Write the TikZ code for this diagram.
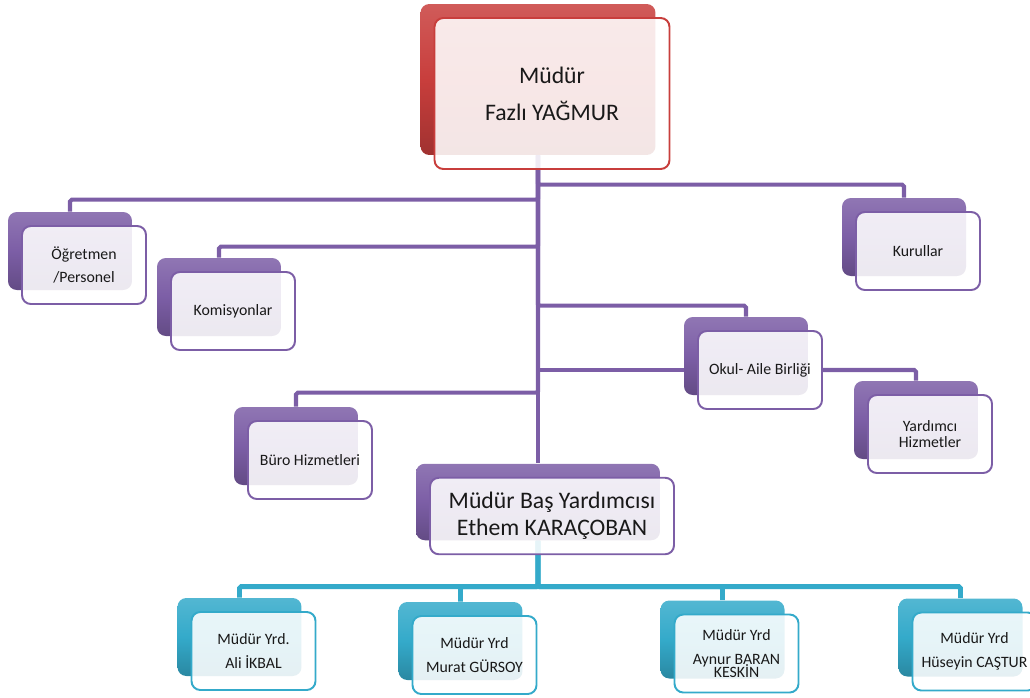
\documentclass[tikz,border=0pt]{standalone}
\usepackage{fontspec}
\setmainfont{Carlito}
\usetikzlibrary{backgrounds}
\definecolor{orgred}{RGB}{200,62,60}
\definecolor{orgpurple}{RGB}{124,94,166}
\definecolor{orgteal}{RGB}{52,170,202}
\tikzset{
  backcard/.style={rounded corners=5pt,draw=none,top color=#1!85!white,bottom color=#1!80!black,middle color=#1},
  frontcard/.style={rounded corners=5pt,draw=#1,line width=1.1pt,fill=white,fill opacity=0.88,text opacity=1,align=center,text=black!90},
  cardS/.style={minimum width=2.48cm,minimum height=1.56cm,inner sep=1pt,font=\fontsize{9}{13.5}\selectfont},
  cardB/.style={minimum width=4.7cm,minimum height=3.02cm,font=\fontsize{13.5}{21}\selectfont},
  cardW/.style={minimum width=4.88cm,minimum height=1.53cm,inner sep=1pt,font=\fontsize{13.5}{15.5}\selectfont},
  pline/.style={draw=orgpurple,line width=2.3pt,rounded corners=1pt},
  tline/.style={draw=orgteal,line width=2.8pt,rounded corners=1pt}
}
\newcommand{\OrgCard}[5]{%
  \node[backcard=#3,#4] (#1-b) at (#2) {};
  \node[frontcard=#3,#4] (#1) at ([shift={(14,14)}]#1-b.center) {#5};
}

\begin{document}
\begin{tikzpicture}[x=0.02cm,y=-0.02cm]
  \useasboundingbox (0,0) rectangle (1030,697);
  \OrgCard{mudur}{538,79.5}{orgred}{cardB}{Müdür\\Fazlı YAĞMUR}
  \OrgCard{ogr}{70,251}{orgpurple}{cardS}{Öğretmen\\/Personel}
  \OrgCard{kom}{219,297}{orgpurple}{cardS}{Komisyonlar}
  \OrgCard{kur}{904,237}{orgpurple}{cardS}{Kurullar}
  \OrgCard{okul}{746,356}{orgpurple}{cardS}{Okul- Aile Birliği}
  \OrgCard{yard}{916,420}{orgpurple}{cardS}{Yardımcı\\[-4.5pt]Hizmetler}
  \OrgCard{buro}{296,446}{orgpurple}{cardS}{Büro Hizmetleri}
  \OrgCard{mby}{538,502}{orgpurple}{cardW}{Müdür Baş Yardımcısı\\Ethem KARAÇOBAN}
  \OrgCard{ali}{239.5,637}{orgteal}{cardS}{Müdür Yrd.\\Ali İKBAL}
  \OrgCard{murat}{460.5,641}{orgteal}{cardS}{Müdür Yrd\\Murat GÜRSOY}
  \OrgCard{aynur}{722.5,639.5}{orgteal}{cardS}{Müdür Yrd\\Aynur BARAN\\[-6pt]KESKİN}
  \OrgCard{huseyin}{960.5,637.5}{orgteal}{cardS}{Müdür Yrd\\Hüseyin CAŞTUR}

  \begin{scope}[on background layer]
    \draw[pline] (mudur-b.south) -- (mby-b.north);
    \draw[pline] (ogr-b.north) -- ++(0,-12) -| (mudur-b.south);
    \draw[pline] (kom-b.north) -- ++(0,-11) -| (mudur-b.south);
    \draw[pline] (kur-b.north) -- ++(0,-13) -| (mudur-b.south);
    \draw[pline] (okul-b.north) -- ++(0,-11) -| (mudur-b.south);
    \draw[pline] (okul.west) -- (okul.west -| mudur-b.south);
    \draw[pline] (okul.east) -| (yard-b.north);
    \draw[pline] (buro-b.north) -- ++(0,-14) -| (mudur-b.south);
    \draw[tline] (mby-b.south) -- ++(0,47);
    \draw[tline] (ali-b.north) -- ++(0,-11) -| (mby-b.south);
    \draw[tline] (murat-b.north) -- ++(0,-15) -| (mby-b.south);
    \draw[tline] (aynur-b.north) -- ++(0,-13.5) -| (mby-b.south);
    \draw[tline] (huseyin-b.north) -- ++(0,-11.5) -| (mby-b.south);
  \end{scope}
\end{tikzpicture}
\end{document}
